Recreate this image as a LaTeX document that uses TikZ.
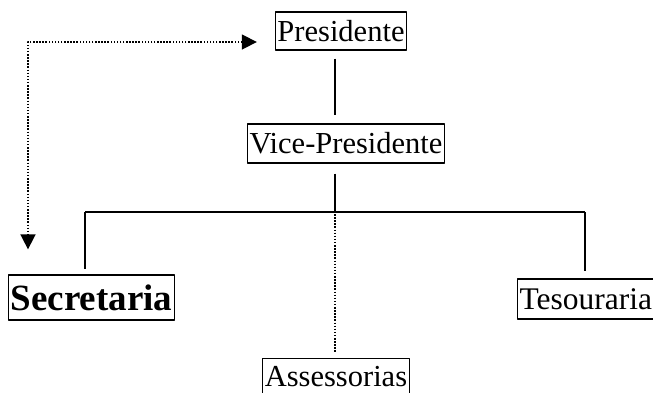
\documentclass[tikz,border=0pt]{standalone}
\usepackage{fontspec}
\setmainfont{Liberation Serif}
\usetikzlibrary{arrows.meta}

\begin{document}
\begin{tikzpicture}[x=1pt,y=-1pt,line join=bevel,
  box/.style={draw,line width=1.3pt,inner xsep=2pt,inner ysep=0pt,minimum height=38pt,font=\fontsize{30.5}{36}\selectfont},
  link/.style={line width=1.2pt},
  dots/.style={line width=1.6pt,dash pattern=on 1.5pt off 1.6pt},
  >={Triangle[length=15pt,width=15pt]}]
\useasboundingbox (0,0) rectangle (653,392);
%%
\node (pres) at (341,31) [box] {Presidente};
\node (vice) at (346,143.5) [box,minimum height=39pt] {Vice-Presidente};
\node (sec) at (91.5,297.5) [box,minimum height=45pt,font=\fontsize{37}{42}\selectfont\bfseries] {Secretaria};
\node (tes) at (517,299) [box,anchor=west,minimum height=40pt,font=\fontsize{31.5}{36}\selectfont] {Tesouraria};
\node (ass) at (336,358) [box,anchor=north,minimum height=36pt] {Assessorias};
\coordinate (hub) at (335,212);
\coordinate (left) at (85,212);
\coordinate (right) at (585,212);
\coordinate (corner) at (28,42);
%
\draw [link] ([yshift=-8]pres.south -| hub) -- ([yshift=8]vice.north -| hub);
\draw [link] ([yshift=-10]vice.south -| hub) -- (hub);
\draw [link] (left) -- (right);
\draw [link] (left) -- ([yshift=5]sec.north -| left);
\draw [link] (right) -- ([yshift=7]tes.north -| right);
\draw [dots] ([yshift=-2]hub) -- ([yshift=5]ass.north -| hub);
\draw [dots,<->] ([xshift=-18]pres.west |- corner) -- (corner) -- ([yshift=25]sec.north -| corner);
%
\end{tikzpicture}
\end{document}
